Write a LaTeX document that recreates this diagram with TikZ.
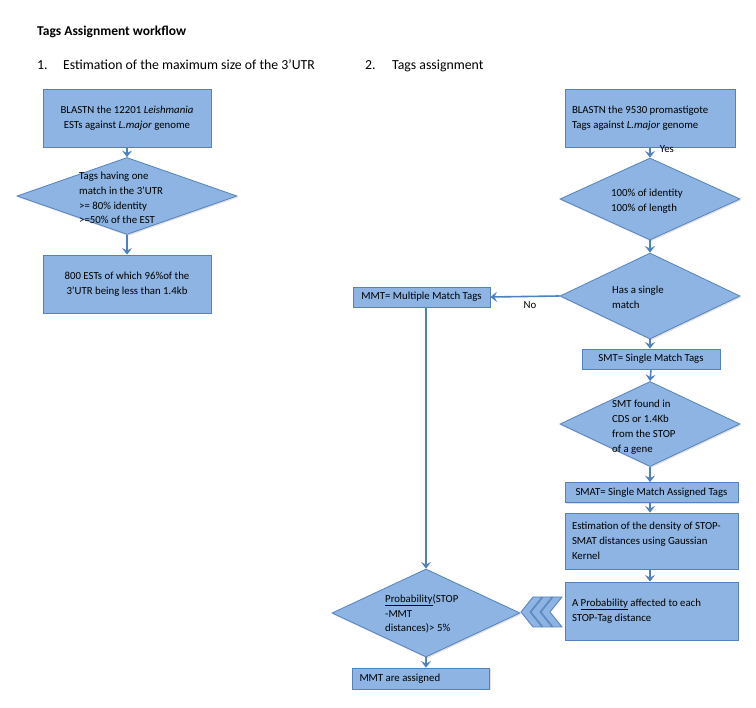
\documentclass[tikz,border=0pt]{standalone}
\usepackage{fontspec}
\setmainfont{Carlito}
\usetikzlibrary{shapes.geometric,arrows.meta,shadows}
\definecolor{boxfill}{RGB}{141,180,226}
\definecolor{boxedge}{RGB}{84,130,190}
\definecolor{arrowc}{RGB}{79,129,189}
\begin{document}
\begin{tikzpicture}[x=1pt,y=-1pt,
  shd/.style={drop shadow={opacity=0.25,shadow xshift=1pt,shadow yshift=-1.5pt}},
  box/.style={draw=boxedge, fill=boxfill, line width=0.8pt, shd, inner sep=0pt,
    font=\fontsize{10.8}{15}\selectfont},
  lbox/.style={box, align=flush left, inner xsep=7pt},
  dia/.style={diamond, draw=boxedge, fill=boxfill, line width=0.8pt, shd, inner sep=0pt},
  txt/.style={font=\fontsize{10.8}{14.8}\selectfont, align=left, inner sep=0pt},
  head/.style={font=\fontsize{13.8}{16}\selectfont, anchor=base west, inner sep=0pt},
  arr/.style={draw=arrowc, line width=1.6pt, -{Stealth[length=6.5pt,width=10pt,inset=2.5pt]}},
  chev/.style={draw=boxedge, fill=boxfill, line width=0.8pt, line join=miter}
]
\path[use as bounding box] (0,0) rectangle (756,708);

% headings
\node[head, font=\bfseries\fontsize{13.5}{16}\selectfont] (title) at (37,36) {Tags Assignment workflow};
\node[head] (n1) at (37,70) {1.};
\node[head] (h1) at (63,70) {Estimation of the maximum size of the 3'UTR};
\node[head] (n2) at (365,70) {2.};
\node[head] (h2) at (392,70) {Tags assignment};

% left column
\node[box, minimum width=168pt, minimum height=58pt, align=center] (b1) at (127,118)
  {BLASTN the 12201 \textit{Leishmania}\\ESTs against \textit{L.major} genome};
\node[dia, minimum width=220pt, minimum height=77pt] (d1) at (127,196) {};
\node[txt, anchor=west] (t1) at (79,198) {Tags having one\\match in the 3'UTR\\>= 80\% identity\\>=50\% of the EST};
\node[box, minimum width=168pt, minimum height=58pt, align=center] (b3) at (127,284)
  {800 ESTs of which 96\%of the\\3'UTR being less than 1.4kb};
\draw[arr] (b1.south) -- (d1.north);
\draw[arr] (d1.south) -- (b3.north);

% right column
\node[lbox, text width=156pt, minimum height=58pt] (r1) at (650,118)
  {BLASTN the 9530 promastigote\\Tags against \textit{L.major} genome};
\node[dia, minimum width=180pt, minimum height=82pt] (r2) at (650,199) {};
\node[txt, anchor=west] (t2) at (611,201) {100\% of identity\\100\% of length};
\node[dia, minimum width=180pt, minimum height=86pt] (r3) at (650,296) {};
\node[txt, anchor=west] (t3) at (612,297) {Has a single\\match};
\node[box, minimum width=138pt, minimum height=20pt, align=center] (smt) at (651,359) {SMT= Single Match Tags};
\node[dia, minimum width=180pt, minimum height=85pt] (r4) at (650,424) {};
\node[txt, anchor=west] (t4) at (612,427) {SMT found in\\CDS or 1.4Kb\\from the STOP\\of a gene};
\node[box, minimum width=173pt, minimum height=20pt, align=center] (smat) at (651.5,492.5) {SMAT= Single Match Assigned Tags};
\node[lbox, text width=159pt, minimum height=56pt] (est) at (651.5,541)
  {Estimation of the density of STOP-\\SMAT distances using Gaussian\\Kernel};
\node[lbox, text width=159pt, minimum height=58pt] (prob) at (651.5,611)
  {A \underline{Probability} affected to each\\STOP-Tag distance};

\draw[arr] (r1.south) -- node[txt, anchor=west, pos=0.15, xshift=9pt] (yes) {Yes} (r2.north);
\draw[arr] (r2.south) -- (r3.north);
\draw[arr] (r3.south) -- (smt.north -| r3.south);
\draw[arr] (smt.south) -- (r4.north);
\draw[arr] (r4.south) -- (smat.north -| r4.south);
\draw[arr] (smat.south -| r4.south) -- (est.north -| r4.south);
\draw[arr] (est.south -| r4.south) -- (prob.north -| r4.south);

% MMT branch
\node[box, minimum width=137pt, minimum height=20pt, align=center] (mmt) at (421.5,297) {MMT= Multiple Match Tags};
\draw[arr] (r3.west) -- (mmt.east);
\node[txt] (no) at (530,305) {No};
\node[dia, minimum width=188pt, minimum height=88pt] (dp) at (426,613) {};
\node[txt, anchor=west] (tp) at (385,614) {\underline{Probability}(STOP\\-MMT\\distances)> 5\%};
\node[lbox, text width=123pt, minimum height=21pt] (fin) at (421,678.5) {MMT are assigned};
\draw[arr] (mmt.south -| dp.north) -- (dp.north);
\draw[arr] (dp.south) -- (fin.north -| dp.south);

% chevrons
\foreach \x in {541,531,521}{
  \filldraw[chev] (\x,612) -- (\x+12,597) -- (\x+21,597) -- (\x+9,612) -- (\x+21,627) -- (\x+12,627) -- cycle;
}
\end{tikzpicture}
\end{document}
